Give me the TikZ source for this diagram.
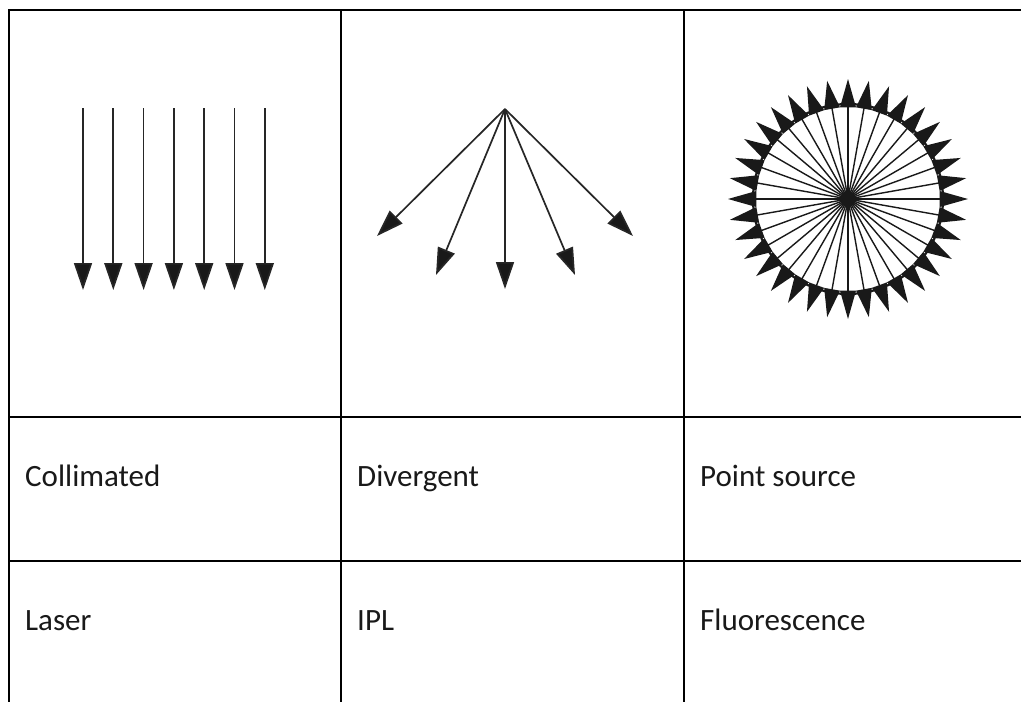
\documentclass[tikz,border=0pt]{standalone}
\usepackage{fontspec}
\setmainfont{Carlito}
\usetikzlibrary{arrows.meta}
\begin{document}
\begin{tikzpicture}[x=1pt,y=-1pt,
  grid/.style={line width=2.2pt,line join=miter},
  ray/.style={line width=1.7pt,draw=black!85,-{Triangle[length=27pt,width=18pt,fill=black!90]}},
  spoke/.style={line width=1.4pt,draw=black!90},
  spike/.style={fill=black!90},
  lbl/.style={anchor=base west,inner sep=0pt,text=black!90,font=\fontsize{31}{37}\selectfont}]
\useasboundingbox (0,0) rectangle (1021,702);
\fill[white] (0,0) rectangle (1021,702);
% table grid
\draw[grid] (9,703) -- (9,10) -- (1022,10);
\draw[grid] (341,10) -- (341,703);
\draw[grid] (684,10) -- (684,703);
\draw[grid] (9,417) -- (1022,417);
\draw[grid] (9,561) -- (1022,561);
% collimated
\foreach \i in {0,...,6} {
  \coordinate (cs\i) at (83+30.3*\i,108);
  \coordinate (ce\i) at (83+30.3*\i,290);
  \draw[ray] (cs\i) -- (ce\i);
}
% divergent
\coordinate (d0) at (505,109);
\foreach \n/\x/\y in {1/377/236, 2/436/275, 3/505/289, 4/575/275, 5/633/236} {
  \coordinate (d\n) at (\x,\y);
  \draw[ray] (d0) -- (d\n);
}
% point source
\coordinate (p) at (848,199);
\foreach \a in {0,10,...,350} {
  \fill[spike,shift={(p)}] (\a-5:92) -- (\a:120) -- (\a+5:92) -- cycle;
  \draw[spoke] (p) -- ++(\a:95);
}
\draw[line width=2.2pt,draw=black!90] (p) circle (95pt);
\fill[black!90] (p) circle (8pt);
% labels
\node[lbl] (t1) at (25,486) {Collimated};
\node[lbl] (t2) at (357,486) {Divergent};
\node[lbl] (t3) at (700,486) {Point source};
\node[lbl] (t4) at (25,630) {Laser};
\node[lbl] (t5) at (357,630) {IPL};
\node[lbl] (t6) at (700,630) {Fluorescence};
\end{tikzpicture}
\end{document}
